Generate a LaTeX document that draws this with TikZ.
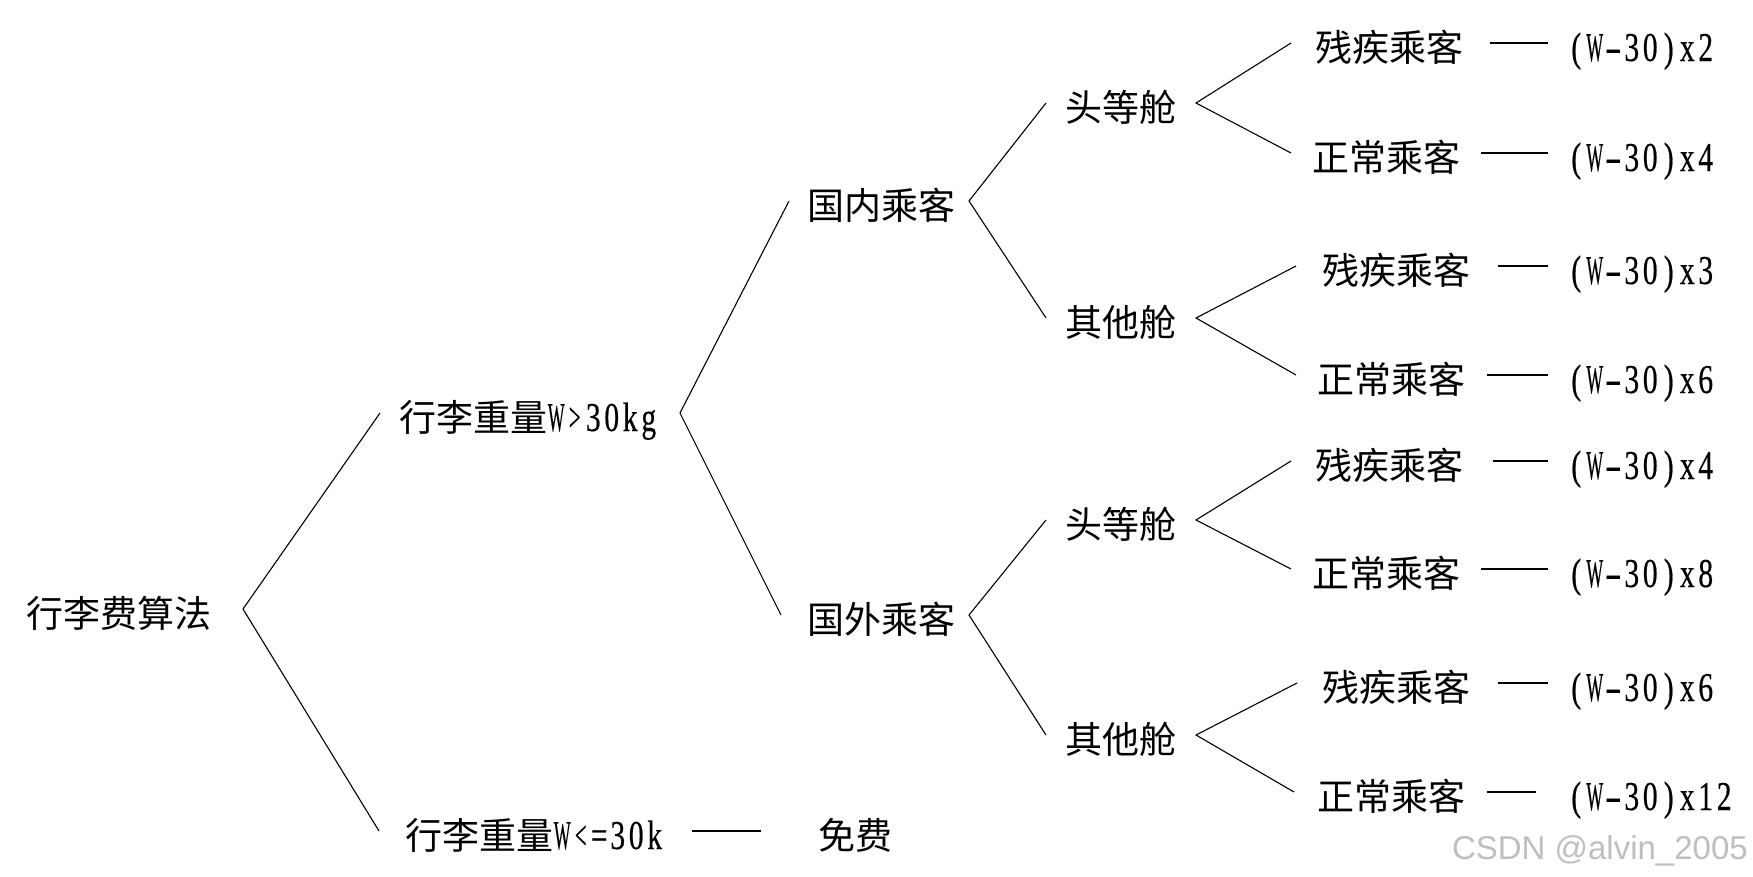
\documentclass[tikz,border=0pt]{standalone}
\usepackage{fontspec}
\usepackage{graphicx}
\newfontfamily\cjk{Noto Sans CJK SC}
\newfontfamily\latn[FakeStretch=0.72,FakeBold=0.4]{Liberation Serif}
\newfontfamily\wmfont{Liberation Sans}
\def\monochar#1{\ifx W#1\scalebox{0.6}[1]{W}\else\ifx -#1\scalebox{1.7}[1]{-}\else\ifx >#1\scalebox{0.7}[1]{>}\else\ifx <#1\scalebox{0.7}[1]{<}\else #1\fi\fi\fi\fi}
\def\monoaux#1{\ifx#1\relax\else\makebox[18.5pt]{\monochar#1}\expandafter\monoaux\fi}
\newcommand\lt[1]{{\latn\fontsize{41}{44}\selectfont\monoaux#1\relax}}
\tikzset{
  lbl/.style={anchor=west, inner sep=0pt, outer sep=0pt, text height=36pt, text depth=0pt,
              font=\cjk\fontsize{37}{40}\selectfont},
  conn/.style={line width=1.1pt, black}
}
\begin{document}
\begin{tikzpicture}[x=1pt,y=-1pt]
\useasboundingbox (0,0) rectangle (1753,876);
\fill[white] (0,0) rectangle (1753,876);

% nodes
\node[lbl] (root) at (26,609) {行李费算法};
\node[lbl] (w1) at (399,413) {行李重量\lt{W>30kg}};
\node[lbl] (w2) at (405,831) {行李重量\lt{W<=30k}};
\node[lbl] (free) at (818,831) {免费};
\node[lbl] (dom) at (807,201) {国内乘客};
\node[lbl] (frn) at (807,615) {国外乘客};
\node[lbl] (d1) at (1065,103) {头等舱};
\node[lbl] (d2) at (1065,318) {其他舱};
\node[lbl] (f1) at (1065,520) {头等舱};
\node[lbl] (f2) at (1065,735) {其他舱};
\node[lbl] (l1) at (1315,43) {残疾乘客};
\node[lbl] (l2) at (1312,153) {正常乘客};
\node[lbl] (l3) at (1322,266) {残疾乘客};
\node[lbl] (l4) at (1317,375) {正常乘客};
\node[lbl] (l5) at (1315,461) {残疾乘客};
\node[lbl] (l6) at (1312,569) {正常乘客};
\node[lbl] (l7) at (1322,683) {残疾乘客};
\node[lbl] (l8) at (1317,792) {正常乘客};
\node[lbl] (r1) at (1567,43) {\lt{(W-30)x2}};
\node[lbl] (r2) at (1567,153) {\lt{(W-30)x4}};
\node[lbl] (r3) at (1567,266) {\lt{(W-30)x3}};
\node[lbl] (r4) at (1567,375) {\lt{(W-30)x6}};
\node[lbl] (r5) at (1567,461) {\lt{(W-30)x4}};
\node[lbl] (r6) at (1567,569) {\lt{(W-30)x8}};
\node[lbl] (r7) at (1567,683) {\lt{(W-30)x6}};
\node[lbl] (r8) at (1567,792) {\lt{(W-30)x12}};

% branches
\draw[conn] ([xshift=-19pt]w1.west) -- ([xshift=32pt]root.east) -- ([xshift=-26pt]w2.west);
\draw[conn] ([xshift=-18pt]dom.west) -- ([xshift=22pt]w1.east) -- ([xshift=-26pt]frn.west);
\draw[conn] ([xshift=-19pt]d1.west) -- ([xshift=14pt]dom.east) -- ([xshift=-19pt]d2.west);
\draw[conn] ([xshift=-19pt]f1.west) -- ([xshift=14pt]frn.east) -- ([xshift=-19pt]f2.west);
\draw[conn] ([xshift=-24pt]l1.west) -- ([xshift=20pt]d1.east) -- ([xshift=-21pt]l2.west);
\draw[conn] ([xshift=-26pt]l3.west) -- ([xshift=20pt]d2.east) -- ([xshift=-21pt]l4.west);
\draw[conn] ([xshift=-24pt]l5.west) -- ([xshift=20pt]f1.east) -- ([xshift=-21pt]l6.west);
\draw[conn] ([xshift=-25pt]l7.west) -- ([xshift=20pt]f2.east) -- ([xshift=-23pt]l8.west);

% dashes
\draw[conn] ([xshift=28pt]w2.east) -- ([xshift=-57pt]free.west);
\draw[conn] ([xshift=27pt]l1.east) -- ([xshift=-19pt]r1.west);
\draw[conn] ([xshift=21pt]l2.east) -- ([xshift=-19pt]r2.west);
\draw[conn] ([xshift=28pt]l3.east) -- ([xshift=-19pt]r3.west);
\draw[conn] ([xshift=22pt]l4.east) -- ([xshift=-19pt]r4.west);
\draw[conn] ([xshift=30pt]l5.east) -- ([xshift=-19pt]r5.west);
\draw[conn] ([xshift=21pt]l6.east) -- ([xshift=-19pt]r6.west);
\draw[conn] ([xshift=28pt]l7.east) -- ([xshift=-19pt]r7.west);
\draw[conn] ([xshift=22pt]l8.east) -- ([xshift=-31pt]r8.west);

% watermark
\node[anchor=east, inner sep=0pt, text=black!25, font=\wmfont\fontsize{33}{36}\selectfont] (wm) at (1748,851) {CSDN @alvin\_2005};
\end{tikzpicture}
\end{document}
